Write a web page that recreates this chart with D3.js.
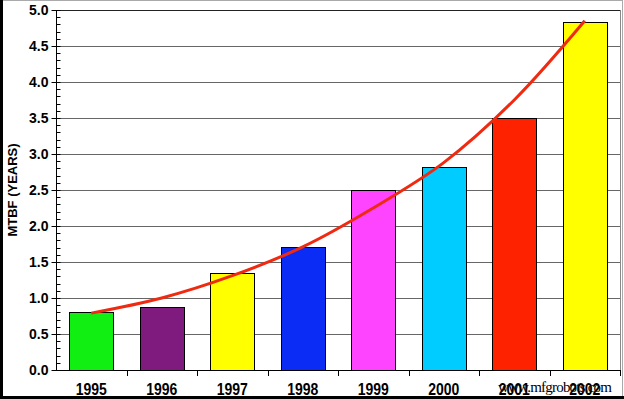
<!DOCTYPE html>
<html lang="en">
<head>
<meta charset="UTF-8">
<title>MTBF by year</title>
<style>
  body { margin: 0; background: #fff; }
  svg text { font-family: Arial, "Liberation Sans", sans-serif; font-weight: bold; fill: #000; }
</style>
</head>
<body>
<div id="chart"></div>
<script src="https://d3js.org/d3.v7.min.js"></script>
<script>
const years = ['1995', '1996', '1997', '1998', '1999', '2000', '2001', '2002']
const mtbf = [0.81, 0.87, 1.35, 1.71, 2.50, 2.82, 3.50, 4.83]
const barColors = ['#11ee11', '#7f1a7f', '#ffff00', '#0a2cf5', '#ff44ff', '#00ccff', '#ff2200', '#ffff00']
const trend = [0.79, 1.0, 1.31, 1.71, 2.25, 2.88, 3.75, 4.85]
const yTicks = [0, 0.5, 1, 1.5, 2, 2.5, 3, 3.5, 4, 4.5, 5]

const width = 624
const height = 399
const plotLeft = 56, plotRight = 620, plotTop = 10, plotBottom = 370

const svg = d3.select('#chart').append('svg')
  .attr('width', width)
  .attr('height', height)

const x = d3.scaleBand().domain(years).range([plotLeft, plotRight]).paddingInner(0.375).paddingOuter(0.1875)
const xEdge = d3.scaleLinear().domain([0, years.length]).range([plotLeft, plotRight])
const y = d3.scaleLinear().domain([0, 5]).range([plotBottom, plotTop])

// image frame
svg.append('rect').attr('x', 0.5).attr('y', 0.5).attr('width', width - 2).attr('height', height - 2)
  .attr('fill', 'none').attr('stroke', '#aaa')
svg.append('rect').attr('x', 0).attr('y', 0).attr('width', 3).attr('height', height).attr('fill', '#000')
svg.append('rect').attr('x', 0).attr('y', height - 3).attr('width', width).attr('height', 3).attr('fill', '#000')

// gridlines
svg.append('g').selectAll('line').data(yTicks.slice(1)).join('line')
  .attr('x1', plotLeft).attr('x2', plotRight)
  .attr('y1', d => Math.round(y(d)) + 0.5).attr('y2', d => Math.round(y(d)) + 0.5)
  .attr('stroke', d => d === 5 ? '#222' : '#666')

// right frame line
svg.append('line').attr('x1', plotRight + 0.5).attr('x2', plotRight + 0.5).attr('y1', plotTop).attr('y2', plotBottom + 6)
  .attr('stroke', '#888')

// bars
svg.append('g').selectAll('rect').data(years).join('rect')
  .attr('x', d => Math.round(x(d)) + 0.5)
  .attr('y', (d, i) => Math.round(y(mtbf[i])) + 0.5)
  .attr('width', Math.round(x.bandwidth()))
  .attr('height', (d, i) => Math.round(y(0)) - Math.round(y(mtbf[i])))
  .attr('fill', (d, i) => barColors[i])
  .attr('stroke', '#000')

// y axis
const yAxis = svg.append('g').attr('transform', `translate(${plotLeft + 0.5},0)`)
yAxis.append('line').attr('y1', plotTop).attr('y2', plotBottom).attr('stroke', '#000')
yAxis.selectAll('.minor').data(d3.range(0, 51)).join('line')
  .attr('x1', 0).attr('x2', 4)
  .attr('y1', d => Math.round(y(d / 10)) + 0.5).attr('y2', d => Math.round(y(d / 10)) + 0.5)
  .attr('stroke', '#000')
yAxis.selectAll('.major').data(yTicks).join('line')
  .attr('x1', -5).attr('x2', 0)
  .attr('y1', d => Math.round(y(d)) + 0.5).attr('y2', d => Math.round(y(d)) + 0.5)
  .attr('stroke', '#000')
yAxis.selectAll('text').data(yTicks).join('text')
  .attr('x', -8).attr('y', d => y(d) + 5)
  .attr('text-anchor', 'end')
  .style('font-size', '14px')
  .text(d => d.toFixed(1))

// x axis
const xAxis = svg.append('g')
xAxis.append('line').attr('x1', plotLeft).attr('x2', plotRight + 1)
  .attr('y1', plotBottom + 0.5).attr('y2', plotBottom + 0.5).attr('stroke', '#000')
xAxis.selectAll('.tick').data(d3.range(1, years.length + 1)).join('line')
  .attr('x1', d => Math.round(xEdge(d)) + 0.5).attr('x2', d => Math.round(xEdge(d)) + 0.5)
  .attr('y1', plotBottom).attr('y2', plotBottom + 6).attr('stroke', '#000')
xAxis.selectAll('text').data(years).join('text')
  .attr('transform', d => `translate(${x(d) + x.bandwidth() / 2},395) scale(1,1.2)`)
  .attr('text-anchor', 'middle')
  .style('font-size', '14px')
  .text(d => d)

// trend line
const line = d3.line()
  .x((d, i) => x(years[i]) + x.bandwidth() / 2)
  .y(d => y(d))
  .curve(d3.curveCatmullRom)
svg.append('path').datum(trend)
  .attr('d', line)
  .attr('fill', 'none')
  .attr('stroke', '#f02a10')
  .attr('stroke-width', 3)

// axis title
svg.append('text')
  .attr('transform', `translate(17,${(plotTop + plotBottom) / 2}) rotate(-90)`)
  .attr('text-anchor', 'middle')
  .style('font-size', '13px')
  .text('MTBF (YEARS)')

// watermark
svg.append('text')
  .attr('x', 498).attr('y', 392)
  .attr('textLength', 114)
  .style('font-family', '"Liberation Serif", "DejaVu Serif", serif')
  .style('font-weight', 'normal')
  .style('font-size', '15px')
  .text('www.mfgrobots.com')
</script>
</body>
</html>
